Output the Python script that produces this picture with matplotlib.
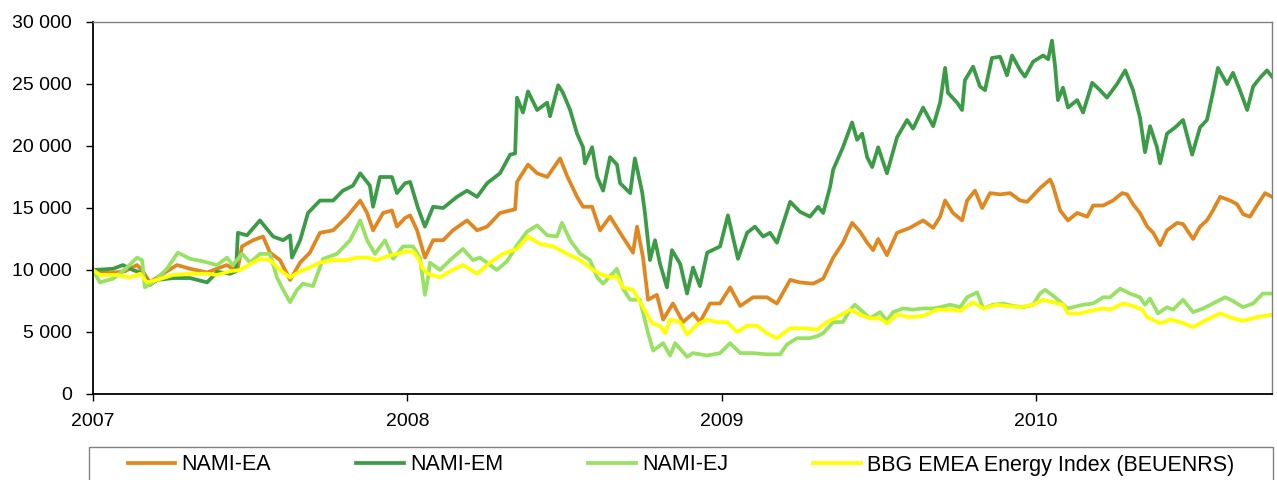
import matplotlib
matplotlib.use("Agg")
import matplotlib.pyplot as plt
from matplotlib.patches import Rectangle
from matplotlib.ticker import FuncFormatter, MultipleLocator

plt.rcParams['font.family'] = ['Liberation Sans', 'DejaVu Sans']

# time in decimal years, index values
ea_t = [2007.000, 2007.054, 2007.102, 2007.140, 2007.156, 2007.181, 2007.207, 2007.267, 2007.309, 2007.363,
        2007.426, 2007.445, 2007.461, 2007.474, 2007.509, 2007.541, 2007.563, 2007.595, 2007.627, 2007.659,
        2007.690, 2007.722, 2007.764, 2007.808, 2007.850, 2007.872, 2007.891, 2007.923, 2007.951, 2007.967,
        2007.993, 2008.009, 2008.031, 2008.056, 2008.082, 2008.114, 2008.145, 2008.190, 2008.222, 2008.254,
        2008.295, 2008.343, 2008.349, 2008.384, 2008.413, 2008.445, 2008.486, 2008.508, 2008.540, 2008.559,
        2008.588, 2008.613, 2008.645, 2008.677, 2008.718, 2008.731, 2008.750, 2008.766, 2008.794, 2008.814,
        2008.845, 2008.877, 2008.909, 2008.931, 2008.963, 2008.995, 2009.027, 2009.059, 2009.100, 2009.144,
        2009.176, 2009.218, 2009.249, 2009.291, 2009.323, 2009.355, 2009.386, 2009.415, 2009.440, 2009.463,
        2009.482, 2009.498, 2009.526, 2009.558, 2009.599, 2009.641, 2009.673, 2009.695, 2009.711, 2009.736,
        2009.765, 2009.781, 2009.806, 2009.829, 2009.854, 2009.886, 2009.918, 2009.950, 2009.972, 2010.013,
        2010.045, 2010.054, 2010.077, 2010.102, 2010.131, 2010.163, 2010.182, 2010.214, 2010.245, 2010.274,
        2010.290, 2010.309, 2010.331, 2010.354, 2010.373, 2010.395, 2010.417, 2010.449, 2010.468, 2010.500,
        2010.522, 2010.544, 2010.563, 2010.586, 2010.618, 2010.640, 2010.659, 2010.681, 2010.703, 2010.729,
        2010.751]
ea_v = [10000, 9750, 9900, 10400, 10000, 9000, 9450, 10400, 10100, 9800,
        10400, 10100, 10200, 11900, 12400, 12700, 11400, 10800, 9200, 10600,
        11400, 13000, 13200, 14300, 15600, 14600, 13200, 14600, 14800, 13500,
        14200, 14400, 13200, 11000, 12400, 12400, 13200, 14000, 13200, 13500,
        14600, 14900, 17100, 18500, 17800, 17500, 19000, 17600, 15900, 15100,
        15100, 13200, 14300, 13000, 11400, 13500, 11000, 7600, 8000, 6000,
        7300, 5800, 6500, 5800, 7300, 7300, 8600, 7100, 7800, 7800,
        7300, 9200, 9000, 8900, 9300, 11000, 12200, 13800, 13100, 12200,
        11600, 12500, 11200, 13000, 13400, 14000, 13400, 14300, 15600, 14600,
        14000, 15600, 16400, 15000, 16200, 16100, 16200, 15600, 15500, 16600,
        17300, 16800, 14800, 14000, 14600, 14300, 15200, 15200, 15600, 16200,
        16100, 15300, 14600, 13500, 13000, 12000, 13200, 13800, 13700, 12500,
        13500, 14000, 14800, 15900, 15600, 15300, 14500, 14300, 15200, 16200,
        15900]

em_t = [2007.000, 2007.032, 2007.064, 2007.095, 2007.127, 2007.150, 2007.181, 2007.204, 2007.255, 2007.309,
        2007.363, 2007.395, 2007.436, 2007.455, 2007.461, 2007.490, 2007.531, 2007.573, 2007.605, 2007.627,
        2007.633, 2007.659, 2007.684, 2007.722, 2007.764, 2007.795, 2007.827, 2007.850, 2007.881, 2007.891,
        2007.913, 2007.951, 2007.967, 2007.993, 2008.009, 2008.034, 2008.056, 2008.082, 2008.114, 2008.158,
        2008.190, 2008.222, 2008.254, 2008.295, 2008.327, 2008.343, 2008.349, 2008.368, 2008.384, 2008.413,
        2008.445, 2008.454, 2008.480, 2008.495, 2008.518, 2008.540, 2008.559, 2008.565, 2008.588, 2008.604,
        2008.623, 2008.645, 2008.667, 2008.677, 2008.709, 2008.724, 2008.747, 2008.756, 2008.772, 2008.788,
        2008.804, 2008.826, 2008.842, 2008.868, 2008.890, 2008.909, 2008.931, 2008.954, 2008.995, 2009.020,
        2009.052, 2009.081, 2009.106, 2009.132, 2009.154, 2009.176, 2009.218, 2009.249, 2009.281, 2009.307,
        2009.323, 2009.345, 2009.355, 2009.386, 2009.415, 2009.431, 2009.447, 2009.463, 2009.479, 2009.498,
        2009.526, 2009.558, 2009.590, 2009.609, 2009.641, 2009.673, 2009.695, 2009.711, 2009.720, 2009.749,
        2009.765, 2009.774, 2009.800, 2009.822, 2009.838, 2009.860, 2009.886, 2009.908, 2009.924, 2009.950,
        2009.965, 2009.991, 2010.023, 2010.039, 2010.051, 2010.061, 2010.070, 2010.086, 2010.102, 2010.131,
        2010.150, 2010.179, 2010.204, 2010.226, 2010.258, 2010.284, 2010.309, 2010.331, 2010.347, 2010.363,
        2010.385, 2010.395, 2010.417, 2010.443, 2010.468, 2010.497, 2010.522, 2010.544, 2010.563, 2010.579,
        2010.608, 2010.627, 2010.649, 2010.672, 2010.691, 2010.713, 2010.735, 2010.751]
em_v = [10000, 10050, 10100, 10400, 10000, 9800, 8800, 9200, 9350, 9350,
        9000, 9850, 9700, 9900, 13000, 12800, 14000, 12700, 12400, 12800,
        11000, 12400, 14600, 15600, 15600, 16400, 16800, 17800, 16800, 15100,
        17500, 17500, 16200, 17000, 17100, 15000, 13500, 15100, 15000, 15900,
        16400, 15900, 17000, 17800, 19300, 19400, 23900, 22700, 24400, 22900,
        23500, 22400, 24900, 24300, 22900, 21000, 19900, 18600, 19900, 17500,
        16400, 19100, 18500, 17000, 16200, 19000, 16300, 14600, 10800, 12400,
        10500, 8600, 11600, 10500, 8100, 10200, 8700, 11400, 11900, 14400,
        10900, 13000, 13500, 12700, 13000, 12200, 15500, 14700, 14300, 15100,
        14600, 16700, 18100, 19900, 21900, 20500, 21000, 19100, 18300, 19900,
        17800, 20700, 22100, 21400, 23100, 21600, 23500, 26300, 24300, 23500,
        22900, 25300, 26400, 24800, 24500, 27100, 27200, 25700, 27300, 26100,
        25600, 26800, 27300, 27000, 28500, 26400, 23700, 24700, 23100, 23700,
        22700, 25100, 24500, 23900, 25000, 26100, 24500, 22300, 19500, 21600,
        19900, 18600, 21000, 21500, 22100, 19300, 21500, 22100, 24300, 26300,
        25000, 25900, 24500, 22900, 24800, 25500, 26100, 25600]

ej_t = [2007.000, 2007.022, 2007.064, 2007.108, 2007.140, 2007.156, 2007.165, 2007.191, 2007.235, 2007.270,
        2007.309, 2007.350, 2007.395, 2007.426, 2007.445, 2007.474, 2007.500, 2007.531, 2007.563, 2007.585,
        2007.605, 2007.627, 2007.649, 2007.668, 2007.700, 2007.732, 2007.776, 2007.818, 2007.840, 2007.850,
        2007.872, 2007.897, 2007.929, 2007.955, 2007.986, 2008.018, 2008.040, 2008.056, 2008.066, 2008.072,
        2008.104, 2008.136, 2008.177, 2008.209, 2008.231, 2008.285, 2008.317, 2008.349, 2008.381, 2008.413,
        2008.445, 2008.476, 2008.492, 2008.518, 2008.550, 2008.581, 2008.604, 2008.623, 2008.667, 2008.686,
        2008.709, 2008.740, 2008.766, 2008.782, 2008.814, 2008.836, 2008.852, 2008.890, 2008.909, 2008.954,
        2008.995, 2009.027, 2009.059, 2009.100, 2009.144, 2009.186, 2009.208, 2009.240, 2009.281, 2009.307,
        2009.323, 2009.355, 2009.386, 2009.409, 2009.424, 2009.450, 2009.472, 2009.504, 2009.526, 2009.545,
        2009.577, 2009.609, 2009.641, 2009.673, 2009.695, 2009.727, 2009.759, 2009.781, 2009.813, 2009.832,
        2009.864, 2009.895, 2009.927, 2009.959, 2009.991, 2010.013, 2010.029, 2010.061, 2010.083, 2010.099,
        2010.118, 2010.150, 2010.182, 2010.214, 2010.236, 2010.268, 2010.299, 2010.331, 2010.347, 2010.363,
        2010.388, 2010.417, 2010.436, 2010.468, 2010.500, 2010.532, 2010.563, 2010.602, 2010.627, 2010.659,
        2010.691, 2010.722, 2010.751]
ej_v = [10000, 9000, 9300, 10200, 11000, 10800, 8600, 9000, 10100, 11400,
        10900, 10700, 10400, 11000, 10400, 11300, 10600, 11300, 11300, 9400,
        8400, 7400, 8400, 8900, 8700, 10900, 11300, 12400, 13500, 14000,
        12400, 11300, 12400, 10900, 11900, 11900, 11000, 8000, 9400, 10600,
        10000, 10800, 11700, 10800, 11000, 10000, 10700, 12000, 13100, 13600,
        12800, 12700, 13800, 12400, 11300, 10800, 9400, 8900, 10100, 8500,
        7600, 7600, 4900, 3500, 4100, 3100, 4100, 3000, 3300, 3100,
        3300, 4100, 3300, 3300, 3200, 3200, 4000, 4500, 4500, 4700,
        4900, 5800, 5800, 6800, 7200, 6600, 6100, 6600, 5900, 6600,
        6900, 6800, 6900, 6900, 7000, 7200, 7000, 7800, 8200, 6900,
        7200, 7300, 7100, 7000, 7200, 8100, 8400, 7800, 7300, 6900,
        7000, 7200, 7300, 7800, 7800, 8500, 8100, 7800, 7200, 7700,
        6500, 7000, 6800, 7600, 6600, 6900, 7300, 7800, 7500, 7000,
        7300, 8100, 8100]

bbg_t = [2007.000, 2007.022, 2007.076, 2007.118, 2007.150, 2007.172, 2007.204, 2007.255, 2007.309, 2007.363,
         2007.395, 2007.436, 2007.468, 2007.509, 2007.531, 2007.563, 2007.595, 2007.627, 2007.659, 2007.690,
         2007.722, 2007.764, 2007.808, 2007.840, 2007.872, 2007.904, 2007.935, 2007.967, 2007.999, 2008.018,
         2008.034, 2008.050, 2008.066, 2008.104, 2008.136, 2008.177, 2008.222, 2008.263, 2008.304, 2008.349,
         2008.384, 2008.422, 2008.464, 2008.508, 2008.550, 2008.591, 2008.613, 2008.645, 2008.667, 2008.686,
         2008.718, 2008.750, 2008.779, 2008.804, 2008.820, 2008.836, 2008.868, 2008.890, 2008.922, 2008.954,
         2008.985, 2009.017, 2009.049, 2009.081, 2009.113, 2009.144, 2009.176, 2009.218, 2009.259, 2009.304,
         2009.335, 2009.367, 2009.409, 2009.440, 2009.472, 2009.504, 2009.526, 2009.558, 2009.599, 2009.641,
         2009.685, 2009.736, 2009.759, 2009.800, 2009.832, 2009.876, 2009.908, 2009.950, 2009.991, 2010.023,
         2010.054, 2010.086, 2010.102, 2010.140, 2010.172, 2010.214, 2010.236, 2010.277, 2010.309, 2010.338,
         2010.354, 2010.395, 2010.427, 2010.459, 2010.500, 2010.544, 2010.586, 2010.627, 2010.659, 2010.703,
         2010.751]
bbg_v = [10000, 9600, 9600, 9400, 9700, 9000, 9200, 9600, 9700, 9700,
         9600, 9900, 10000, 10600, 10900, 10800, 10000, 9400, 9900, 10200,
         10600, 10800, 10800, 11000, 11000, 10800, 11100, 11300, 11500, 11500,
         11000, 10100, 9700, 9400, 9900, 10400, 9700, 10600, 11300, 11700,
         12700, 12100, 11900, 11300, 10800, 10000, 9700, 9400, 9500, 8600,
         8400, 7000, 5700, 5500, 4900, 6000, 5800, 4800, 5600, 6000,
         5800, 5800, 5000, 5500, 5500, 4900, 4500, 5300, 5300, 5200,
         5800, 6200, 6800, 6400, 6100, 6100, 5700, 6400, 6200, 6300,
         6800, 6800, 6700, 7400, 6900, 7200, 7100, 7000, 7200, 7600,
         7400, 7200, 6500, 6500, 6700, 6900, 6800, 7300, 7100, 6800,
         6200, 5700, 6000, 5800, 5400, 6000, 6500, 6100, 5900, 6200,
         6400]

labels = ["NAMI-EA", "NAMI-EM", "NAMI-EJ", "BBG EMEA Energy Index (BEUENRS)"]
colors = ["#E1871F", "#3C9B46", "#98E263", "#FFFF00"]
years = [2007, 2008, 2009, 2010]

W, H = 1277, 480
fig = plt.figure(figsize=(W / 100, H / 100), dpi=100)
ax = fig.add_axes([93 / W, 1 - 394 / H, (1272 - 93) / W, (394 - 22) / H])

series = [(ea_t, ea_v), (em_t, em_v), (ej_t, ej_v), (bbg_t, bbg_v)]
for (t, v), lab, col in zip(series, labels, colors):
    ax.plot(t, v, color=col, lw=2.7, label=lab, solid_joinstyle='round')

ax.set_xlim(2007.0, 2010.751)
ax.set_ylim(0, 30000)
ax.yaxis.set_major_locator(MultipleLocator(5000))
ax.yaxis.set_major_formatter(FuncFormatter(lambda v, p: f"{int(v):,}".replace(",", " ")))
ax.set_xticks(years)
ax.set_xticklabels([str(y) for y in years])

ax.tick_params(axis='y', direction='out', length=5, width=1, pad=10, labelsize=14)
ax.tick_params(axis='x', direction='out', length=5, width=1, pad=9, labelsize=14)

for side in ['left', 'bottom']:
    ax.spines[side].set_color('black')
    ax.spines[side].set_linewidth(1.3)
for side in ['top', 'right']:
    ax.spines[side].set_color('#808080')
    ax.spines[side].set_linewidth(1)

# legend box at the bottom
fig.patches.append(Rectangle((89 / W, -0.1), (1273 - 89) / W, 0.1 + (1 - 447 / H),
                             transform=fig.transFigure, fill=False, ec='#808080', lw=1))
handles, labs = ax.get_legend_handles_labels()
fig.legend(handles, labs, loc='center', bbox_to_anchor=((89 + 1273) / 2 / W, 1 - 465 / H),
           ncol=4, frameon=False, fontsize=15.5, handlelength=2.2, handletextpad=0.3,
           columnspacing=3.95)

fig.savefig("out.png", dpi=100)
